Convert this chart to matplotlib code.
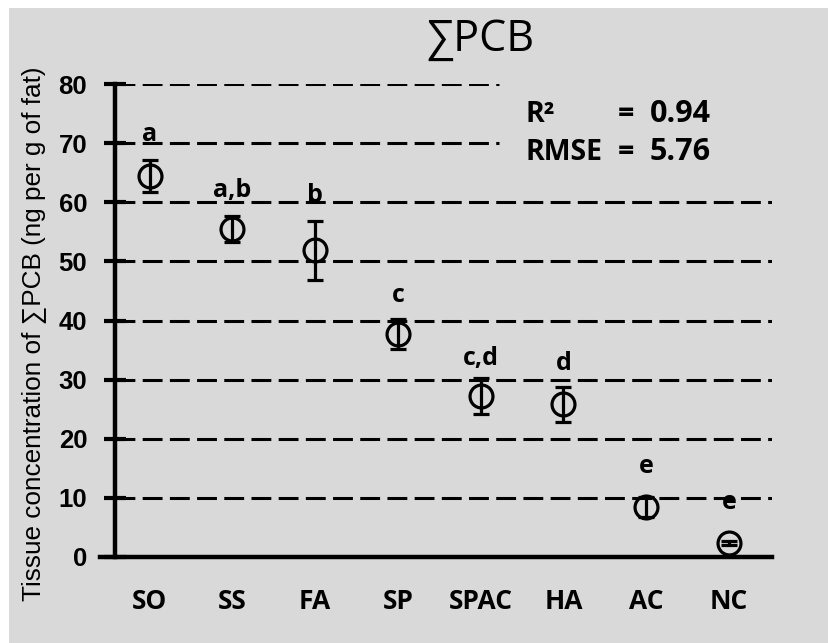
import matplotlib
matplotlib.use("Agg")
import matplotlib.pyplot as plt
from matplotlib.patches import Rectangle

categories = ['SO', 'SS', 'FA', 'SP', 'SPAC', 'HA', 'AC', 'NC']
means = [64.4, 55.5, 51.9, 37.7, 27.2, 25.8, 8.4, 2.4]
errors = [2.7, 2.2, 5.0, 2.5, 3.0, 2.9, 1.7, 0.3]
letters = ['a', 'a,b', 'b', 'c', 'c,d', 'd', 'e', 'e']
letter_y = [71.5, 62.0, 61.1, 44.3, 33.6, 32.8, 15.3, 9.2]
yticks = [0, 10, 20, 30, 40, 50, 60, 70, 80]

W, H = 829, 643
fig = plt.figure(figsize=(W / 100, H / 100), dpi=100, facecolor='white')
fig.patches.append(Rectangle((9 / W, 0), 1 - 9 / W, 1 - 8 / H, transform=fig.transFigure,
                             facecolor='#d9d9d9', edgecolor='none', zorder=-10))

ax = fig.add_axes([115 / W, (H - 557) / H, (772 - 115) / W, (557 - 84) / H])
ax.set_facecolor('none')
x = list(range(len(categories)))
ax.set_xlim(-0.42, 7.52)
ax.set_ylim(0, 80)

for v in yticks[1:]:
    xmax = 0.585 if v >= 70 else 1.0
    ax.axhline(v, xmin=0, xmax=xmax, color='black', lw=2.2, linestyle=(0, (6.5, 2.4)), zorder=1)

ax.errorbar(x, means, yerr=errors, fmt='o', mfc='none', mec='black', mew=2.3, ms=16.5,
            ecolor='black', elinewidth=2.3, capsize=6, capthick=2.3, zorder=3)

for xi, lab, ly in zip(x, letters, letter_y):
    ax.text(xi, ly, lab, ha='center', va='center', fontsize=18, fontweight='bold',
            family=['Open Sans', 'DejaVu Sans'], zorder=4)

for s in ['top', 'right']:
    ax.spines[s].set_visible(False)
for s in ['left', 'bottom']:
    ax.spines[s].set_linewidth(3.2)
ax.spines['bottom'].set_bounds(-0.6, 7.52)
ax.spines['bottom'].set_zorder(5)

ax.set_yticks(yticks)
ax.set_yticklabels([str(t) for t in yticks], fontsize=18.5, fontweight='bold',
                   family=['Liberation Sans', 'DejaVu Sans'])
ax.tick_params(axis='y', direction='inout', length=16, width=3, pad=12)
ax.set_xticks(x)
ax.set_xticklabels(categories, fontsize=19, fontweight='bold', family=['Open Sans', 'DejaVu Sans'])
ax.tick_params(axis='x', length=0, pad=22)

ax.set_ylabel('Tissue concentration of ∑PCB (ng per g of fat)', fontsize=18.8,
              family=['Liberation Sans', 'DejaVu Sans'])
ax.yaxis.set_label_coords(-0.124, 0.471)
ax.yaxis.label.set_va('center')

tfont = ['Open Sans', 'DejaVu Sans']
fig.text(480 / W, 1 - 51 / H, '∑PCB', ha='center', va='baseline', fontsize=31, family=tfont)
fig.text(525 / W, 1 - 122 / H, 'R²', ha='left', va='baseline', fontsize=20.5, fontweight='bold', family=tfont)
fig.text(618 / W, 1 - 122 / H, '=', ha='left', va='baseline', fontsize=20.5, fontweight='bold', family=tfont)
fig.text(650 / W, 1 - 122 / H, '0.94', ha='left', va='baseline', fontsize=22, fontweight='bold', family=tfont)
fig.text(525 / W, 1 - 160 / H, 'RMSE', ha='left', va='baseline', fontsize=20.5, fontweight='bold', family=tfont)
fig.text(618 / W, 1 - 160 / H, '=', ha='left', va='baseline', fontsize=20.5, fontweight='bold', family=tfont)
fig.text(650 / W, 1 - 160 / H, '5.76', ha='left', va='baseline', fontsize=22, fontweight='bold', family=tfont)

fig.savefig('out.png', dpi=100, facecolor='white')
